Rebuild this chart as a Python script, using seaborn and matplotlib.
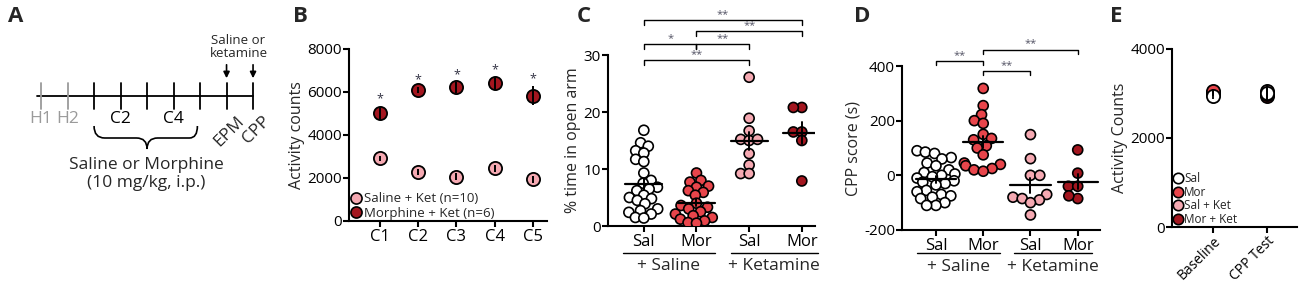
import numpy as np
import pandas as pd
import matplotlib
matplotlib.use('Agg')
import matplotlib.pyplot as plt
import seaborn as sns
from matplotlib.path import Path
from matplotlib.patches import PathPatch
from matplotlib.lines import Line2D

sns.set_style('ticks')
plt.rcParams['font.family'] = ['Open Sans', 'DejaVu Sans']
plt.rcParams['axes.unicode_minus'] = False

# --- 색상 ---
c_sal = 'white'
c_mor = '#e8454b'
c_salket = '#f5a9b2'
c_morket = '#a3161f'

# --- A: 실험 일정 ---
days = ['H1', 'H2', 'C1', 'C2', 'C3', 'C4', 'C5', 'EPM', 'CPP']
shown_days = ['H1', 'H2', 'C2', 'C4']

# --- B: 조건화 중 활동량 ---
sessions = ['C1', 'C2', 'C3', 'C4', 'C5']
salket_act = [2920, 2290, 2060, 2450, 1940]
salket_act_sem = [120, 150, 150, 150, 150]
morket_act = [5020, 6090, 6215, 6400, 5830]
morket_act_sem = [300, 150, 250, 300, 450]

# --- C: EPM open arm (%) ---
group_keys = ['Sal+Saline', 'Mor+Saline', 'Sal+Ketamine', 'Mor+Ketamine']
group_ticks = ['Sal', 'Mor', 'Sal', 'Mor']
epm_sal = [16.8, 14.6, 14.0, 13.2, 12.8, 11.7, 11.3, 9.3, 8.0, 7.5, 6.8, 6.5,
           6.2, 5.4, 5.0, 4.8, 4.5, 3.9, 3.0, 2.7, 2.4, 2.1, 1.5, 1.4]
epm_mor = [9.3, 8.0, 7.7, 7.0, 6.8, 6.2, 5.9, 5.4, 4.0, 3.6, 3.3, 3.0, 2.5,
           2.1, 1.8, 1.5, 1.2, 0.9, 0.6, 0.5]
epm_salket = [26.1, 18.9, 16.7, 15.2, 15.0, 15.2, 12.7, 10.7, 9.2, 9.2]
epm_morket = [20.8, 20.8, 16.5, 16.5, 15.0, 7.9]
epm_comp = [(0, 3, '**'), (1, 3, '**'), (0, 1, '*'), (1, 2, '**'), (0, 2, '**')]
epm_comp_y = [36.1, 34.2, 31.9, 31.9, 29.1]

# --- D: CPP score (s) ---
cpp_sal = [90, 85, 80, 65, 60, 45, 35, 20, 10, 5, 0, -5, -10, -20, -25, -30,
           -35, -55, -60, -70, -75, -80, -85, -100, -110, -110]
cpp_mor = [318, 255, 222, 200, 190, 150, 135, 130, 108, 100, 75, 45, 40, 35,
           25, 20, 15]
cpp_salket = [149, 61, 0, 0, -70, -80, -85, -90, -100, -145]
cpp_morket = [93, 8, -40, -40, -85, -75]
cpp_comp = [(0, 1, '**'), (1, 3, '**'), (1, 2, '**')]
cpp_comp_y = [418, 460, 382]

# --- E: 활동량 ---
phases = ['Baseline', 'CPP Test']
e_groups = ['Mor + Ket', 'Sal + Ket', 'Mor', 'Sal']
e_vals = {'Sal': [2950, 3000], 'Mor': [3050, 2980],
          'Sal + Ket': [3020, 3060], 'Mor + Ket': [3000, 2950]}
e_sems = {'Sal': [80, 120], 'Mor': [60, 100],
          'Sal + Ket': [60, 130], 'Mor + Ket': [60, 100]}

pal = {'Sal+Saline': c_sal, 'Mor+Saline': c_mor,
       'Sal+Ketamine': c_salket, 'Mor+Ketamine': c_morket}
e_pal = {'Sal': c_sal, 'Mor': c_mor, 'Sal + Ket': c_salket, 'Mor + Ket': c_morket}

fig = plt.figure(figsize=(13, 2.85), dpi=100)


def style_axes(ax):
    sns.despine(ax=ax)
    for s in ['left', 'bottom']:
        ax.spines[s].set_linewidth(1.5)
        ax.spines[s].set_color('k')
    ax.tick_params(direction='out', length=4, width=1.5, colors='k')
    ax.tick_params(axis='y', labelsize=11, pad=1)
    ax.tick_params(axis='x', labelsize=12, pad=2)


# ---------- A ----------
axA = fig.add_axes([0, 0, 270 / 1300, 1])
axA.set_xlim(-1.55, 8.64)
axA.set_ylim(285, 0)
axA.axis('off')
axA.plot([-0.15, len(days) - 1], [96, 96], color='k', lw=1.3)
for i, d in enumerate(days):
    col = '#9a9a9a' if d.startswith('H') else 'k'
    axA.plot([i, i], [83, 109], color=col, lw=1.3)
    if d in shown_days:
        axA.text(i, 119, d, ha='center', va='center', fontsize=12.5, color=col)
for d in ['EPM', 'CPP']:
    i = days.index(d)
    axA.text(i + 0.35, 113, d, ha='right', va='top', rotation=45,
             rotation_mode='anchor', fontsize=12.5)
    axA.annotate('', xy=(i, 81), xytext=(i, 62),
                 arrowprops=dict(arrowstyle='-|>', color='k', lw=1.2,
                                 mutation_scale=9))
axA.text(7.45, 47, 'Saline or\nketamine', ha='center', va='center',
         fontsize=9.5, linespacing=1.05)
verts = [(2, 126), (2, 138), (2.4, 138), (3.6, 138), (4, 138), (4, 149),
         (4, 138), (4.4, 138), (5.6, 138), (5.9, 138), (5.9, 126)]
codes = [Path.MOVETO, Path.CURVE3, Path.CURVE3, Path.LINETO, Path.CURVE3,
         Path.CURVE3, Path.CURVE3, Path.CURVE3, Path.LINETO, Path.CURVE3,
         Path.CURVE3]
axA.add_patch(PathPatch(Path(verts, codes), fill=False, lw=1.2, color='k'))
axA.text(3.96, 165, 'Saline or Morphine', ha='center', va='center', fontsize=12.5)
axA.text(3.96, 183, '(10 mg/kg, i.p.)', ha='center', va='center', fontsize=12.5)

# ---------- B ----------
axB = fig.add_axes([0.2685, 0.2246, 0.1523, 0.6035])
xB = np.arange(len(sessions))
for m, e, col in [(salket_act, salket_act_sem, c_salket),
                  (morket_act, morket_act_sem, c_morket)]:
    sns.scatterplot(x=xB, y=m, ax=axB, color=col, s=90, edgecolor='k',
                    linewidth=1.3, zorder=3, legend=False)
    axB.errorbar(xB, m, yerr=e, fmt='none', ecolor='k', elinewidth=1.4,
                 capsize=0, zorder=4)
for x, m, e in zip(xB, morket_act, morket_act_sem):
    axB.text(x, m + e + 40, '*', ha='center', va='bottom', fontsize=9,
             color='#333344')
axB.set_xlim(-0.81, 4.37)
axB.set_ylim(0, 8000)
axB.set_yticks([0, 2000, 4000, 6000, 8000])
axB.set_xticks(xB)
axB.set_xticklabels(sessions)
axB.set_ylabel('Activity counts', fontsize=11.5, labelpad=2)
style_axes(axB)
hB = [Line2D([], [], marker='o', ls='none', mfc=c_salket, mec='k', ms=8, mew=1.2),
      Line2D([], [], marker='o', ls='none', mfc=c_morket, mec='k', ms=8, mew=1.2)]
axB.legend(hB, ['Saline + Ket (n=10)', 'Morphine + Ket (n=6)'], loc='lower left',
           frameon=False, fontsize=9.5, handletextpad=0.1, labelspacing=0.1,
           borderaxespad=0.0, borderpad=0.1, handlelength=0.9)


def scatter_panel(ax, values, mean_w, hook, comps, comp_y, layout_size):
    df = pd.concat([pd.DataFrame({'group': k, 'value': v})
                    for k, v in zip(group_keys, values)], ignore_index=True)
    sns.swarmplot(data=df, x='group', y='value', hue='group', order=group_keys,
                  palette=pal, size=layout_size, edgecolor='k', linewidth=1.2,
                  ax=ax, legend=False, zorder=3)
    for i, v in enumerate(values):
        v = np.asarray(v)
        mu = v.mean()
        se = v.std(ddof=1) / np.sqrt(len(v))
        ax.plot([i - mean_w / 2, i + mean_w / 2], [mu, mu], color='k', lw=1.6,
                zorder=5)
        ax.plot([i, i], [mu - se, mu + se], color='k', lw=1.4, zorder=5)
    for (a, b, lab), y in zip(comps, comp_y):
        ax.plot([a, a, b, b], [y - hook, y, y, y - hook], color='k', lw=1,
                clip_on=False)
        ax.text((a + b) / 2, y, lab, ha='center', va='bottom', fontsize=8,
                color='#555566')
    ax.set_xticks(range(4))
    ax.set_xticklabels(group_ticks)
    ax.set_xlabel('')
    style_axes(ax)


def group_labels(ax, yline, ytext):
    tr = ax.get_xaxis_transform()
    for x0, x1, lab in [(-0.4, 1.35, '+ Saline'), (1.65, 3.3, '+ Ketamine')]:
        ax.plot([x0, x1], [yline, yline], color='k', lw=1, transform=tr,
                clip_on=False)
        ax.text((x0 + x1) / 2, ytext, lab, transform=tr, ha='center',
                va='center', fontsize=12.5)


# ---------- C ----------
axC = fig.add_axes([0.4677, 0.2070, 0.1592, 0.6000])
scatter_panel(axC, [epm_sal, epm_mor, epm_salket, epm_morket], 0.7, 0.8,
              epm_comp, epm_comp_y, 4.6)
axC.set_xlim(-0.68, 3.25)
axC.set_ylim(0, 30)
axC.set_yticks([0, 10, 20, 30])
axC.set_ylabel('% time in open arm', fontsize=11.5, labelpad=2)
group_labels(axC, -0.16, -0.235)

# ---------- D ----------
axD = fig.add_axes([0.6938, 0.1930, 0.1523, 0.5754])
scatter_panel(axD, [cpp_sal, cpp_mor, cpp_salket, cpp_morket], 0.85, 16,
              cpp_comp, cpp_comp_y, 5.2)
axD.set_xlim(-0.72, 3.47)
axD.set_ylim(-200, 400)
axD.set_yticks([-200, 0, 200, 400])
axD.set_ylabel('CPP score (s)', fontsize=11.5, labelpad=2)
group_labels(axD, -0.14, -0.225)

# swarm 위치를 작은 마커로 잡은 뒤 고정하고 마커를 키움 (겹치는 점 재현)
fig.canvas.draw()
for ax in [axC, axD]:
    for coll in ax.collections:
        if 'draw' in coll.__dict__:
            del coll.__dict__['draw']
        coll.set_sizes([7.2 ** 2])

# ---------- E ----------
axE = fig.add_axes([0.9015, 0.2035, 0.0962, 0.6246])
xE = np.arange(len(phases))
for g in e_groups:
    sns.scatterplot(x=xE, y=e_vals[g], ax=axE, color=e_pal[g], s=90,
                    edgecolor='k', linewidth=1.3, zorder=3, legend=False)
    axE.errorbar(xE, e_vals[g], yerr=e_sems[g], fmt='none', ecolor='k',
                 elinewidth=1.3, capsize=0, zorder=4)
axE.set_xlim(-0.76, 1.56)
axE.set_ylim(0, 4000)
axE.set_yticks([0, 2000, 4000])
axE.set_xticks(xE)
axE.set_xticklabels(phases, rotation=45, ha='right', rotation_mode='anchor')
axE.set_ylabel('Activity Counts', fontsize=11.5, labelpad=2)
style_axes(axE)
axE.tick_params(axis='x', labelsize=10, pad=1)
hE = [Line2D([], [], marker='o', ls='none', mfc=e_pal[g], mec='k', ms=7.5, mew=1.2)
      for g in ['Sal', 'Mor', 'Sal + Ket', 'Mor + Ket']]
axE.legend(hE, ['Sal', 'Mor', 'Sal + Ket', 'Mor + Ket'], loc='lower left',
           frameon=False, fontsize=8.5, handletextpad=0.05, labelspacing=0.05,
           borderaxespad=0.0, borderpad=0.1, handlelength=0.9)

# --- 패널 문자 ---
for lab, x in [('A', 8), ('B', 293), ('C', 577), ('D', 854), ('E', 1110)]:
    fig.text(x / 1300, 1 - 17 / 285, lab, fontsize=16, fontweight='bold',
             va='center', ha='left')

fig.savefig('out.png', dpi=100)
